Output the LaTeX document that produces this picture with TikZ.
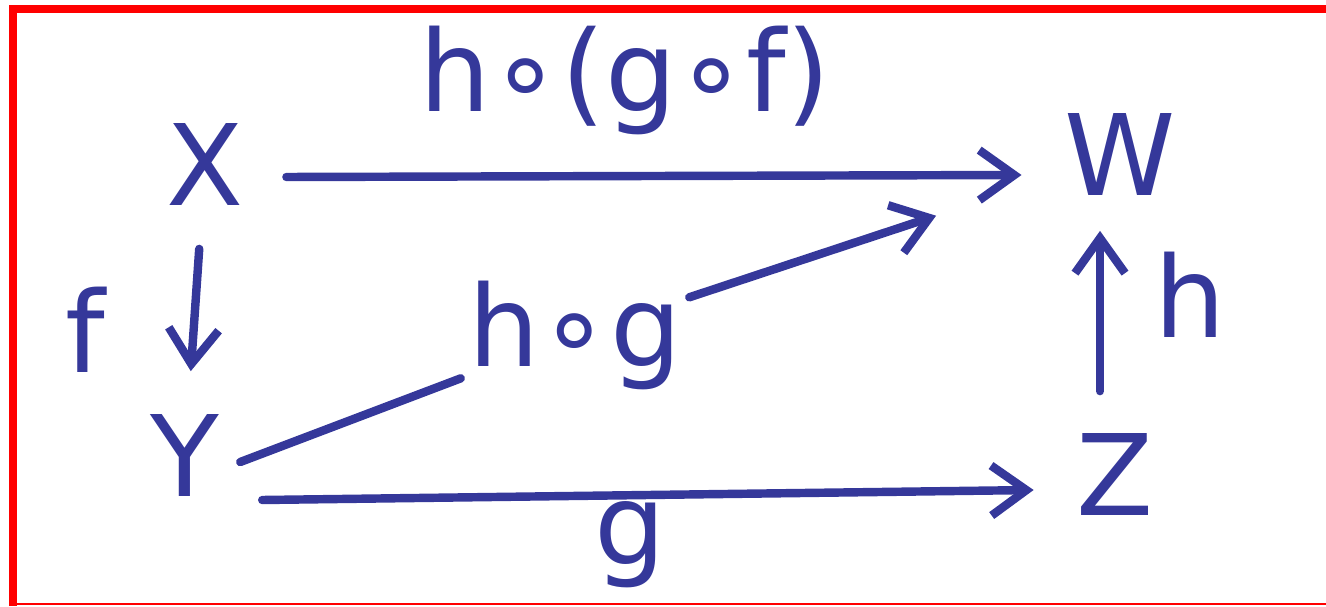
\documentclass[tikz,border=0pt]{standalone}
\usepackage{fontspec}
\setmainfont{DejaVu Sans}
\usetikzlibrary{arrows.meta}

\definecolor{ink}{HTML}{35389A}

\tikzset{
  obj/.style={text=ink, inner sep=12pt, font=\fontsize{32}{36}\selectfont},
  lbl/.style={text=ink, inner sep=2pt, font=\fontsize{32}{36}\selectfont},
  pijl/.style={draw=ink, line width=2.4pt, line cap=round, line join=round,
    -{Straight Barb[length=3.5mm,width=5mm]}},
}

\begin{document}
\begin{tikzpicture}

  \useasboundingbox (0,0) rectangle (13.26,6.06);

  % Rand
  \draw[red, line width=0.08cm] (0.13,0) -- (0.13,5.97) -- (13.26,5.97);
  \draw[red, line width=0.02cm] (0.13,0.02) -- (13.26,0.02);

  % Objecten
  \node[obj] (X) at ( 2.05,4.41) {X};
  \node[obj] (W) at (11.20,4.51) {W};
  \node[obj] (Y) at ( 1.85,1.51) {Y};
  \node[obj] (Z) at (11.15,1.31) {Z};

  % Labels
  \node[lbl] (hgf) at ( 6.25,5.26) {h∘(g∘f)};
  \node[lbl] (f)   at ( 0.85,2.76) {f};
  \node[lbl] (hg)  at ( 5.75,2.71) {h∘g};
  \node[lbl] (h)   at (11.90,3.11) {h};
  \node[lbl] (g)   at ( 6.30,0.61) {g};

  % Pijlen
  \draw[pijl] ([yshift=-0.12cm]X.east) -- ([yshift=-0.2cm]W.west);
  \draw[pijl] (X) -- (Y);
  \draw[pijl] ([yshift=-0.45cm]Y.east) -- ([yshift=-0.15cm]Z.west);
  \draw[pijl] ([xshift=-0.15cm]Z.north) -- ([xshift=-0.2cm,yshift=0.08cm]W.south);

  % Samengestelde pijl door h∘g
  \draw[pijl, shorten >=0.9cm] ([xshift=-0.22cm,yshift=-0.07cm]Y.east) -- (hg) -- (W);

\end{tikzpicture}
\end{document}
